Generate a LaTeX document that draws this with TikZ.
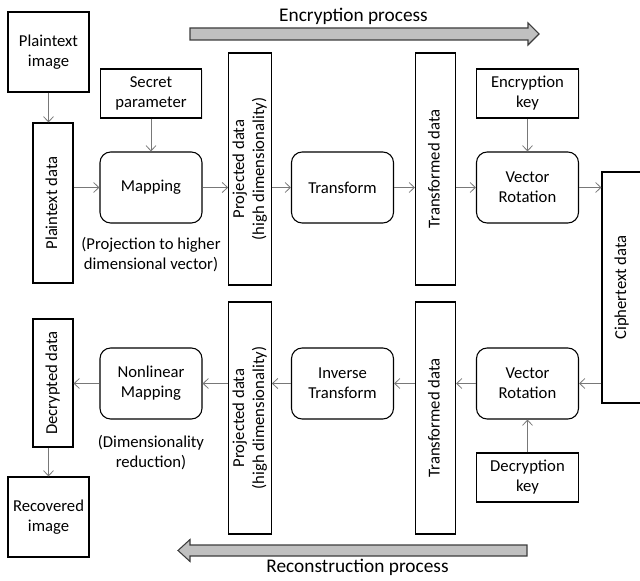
\documentclass[tikz,border=0pt]{standalone}
\usepackage{fontspec}
\setmainfont{Carlito}
\usepackage{tikz}
\usetikzlibrary{arrows.meta,positioning,shadows}
\definecolor{mylinegrey}{RGB}{120,120,120}
\definecolor{myarrowgrey}{RGB}{192,192,192}
\definecolor{myedgegrey}{RGB}{60,60,60}
\newcommand\vtext[1]{\rotatebox{90}{\begin{tabular}{@{}c@{}}#1\end{tabular}}}

\begin{document}
\begin{tikzpicture}[x=0.75pt,y=-0.75pt,
            font=\fontsize{12.5}{15}\selectfont,
            >={Straight Barb[length=4pt,width=7.5pt]},
            boxb/.style={
                draw=black,
                line width=0.8pt,
                fill=white,
                align=center,
                inner sep=1pt},
            squareb/.style={boxb,minimum width=60.75pt,minimum height=60pt},
            keyb/.style={boxb,minimum width=76pt,minimum height=36.75pt},
            procb/.style={boxb,rounded corners=8pt,minimum width=76.5pt,minimum height=53.25pt},
            datab/.style={boxb,minimum width=30pt},
            shadowb/.style={drop shadow={shadow xshift=1pt,shadow yshift=-1pt,fill=black!18}},
            flow/.style={->,draw=mylinegrey,line width=0.6pt},
            fatarrow/.style={fill=myarrowgrey,draw=myedgegrey,line width=0.8pt},
            title/.style={font=\fontsize{14.5}{17}\selectfont},
        ]
        \useasboundingbox (0,0) rectangle (640,581);

        % encryption row
        \node[squareb] (PlainImg) at (48.5,52) {Plaintext\\image};
        \node[datab,shadowb,minimum height=120pt] (PlainData) at (53,203) {\vtext{Plaintext data}};
        \node[keyb,shadowb] (Secret) at (151,93.5) {Secret\\parameter};
        \node[procb] (Map) at (151,187.5) {Mapping};
        \node[align=center] (MapNote) at (151,255) {(Projection to higher\\dimensional vector)};
        \node[datab,minimum height=174pt] (ProjA) at (250,169) {\vtext{Projected data\\(high dimensionality)}};
        \node[procb] (Trans) at (342.5,187.5) {Transform};
        \node[datab,minimum height=174pt] (TransA) at (435.5,169) {\vtext{Transformed data}};
        \node[keyb,shadowb] (EncKey) at (527.5,93.5) {Encryption\\key};
        \node[procb] (RotA) at (527.5,187.5) {Vector\\Rotation};
        \node[datab,shadowb,minimum height=173.25pt] (Cipher) at (622,287.5) {\vtext{Ciphertext data}};

        % reconstruction row
        \node[datab,shadowb,minimum height=96pt] (DecData) at (53,383) {\vtext{Decrypted data}};
        \node[squareb] (RecImg) at (48.5,517) {Recovered\\image};
        \node[procb] (NlMap) at (151,383.5) {Nonlinear\\Mapping};
        \node[align=center] (NlNote) at (151,452.5) {(Dimensionality\\reduction)};
        \node[datab,minimum height=174pt] (ProjB) at (250,418) {\vtext{Projected data\\(high dimensionality)}};
        \node[procb] (InvTrans) at (342.5,383.5) {Inverse\\Transform};
        \node[datab,minimum height=174pt] (TransB) at (435.5,418) {\vtext{Transformed data}};
        \node[procb] (RotB) at (527.5,383.5) {Vector\\Rotation};
        \node[keyb] (DecKey) at (527.5,477.5) {Decryption\\key};

        % fat arrows
        \draw[fatarrow] (190,28) -- (528,28) -- (528,23) -- (539,34) -- (528,45) -- (528,40) -- (190,40) -- cycle;
        \node[title] (EncTitle) at (353.5,16) {Encryption process};
        \draw[fatarrow] (527,545) -- (190,545) -- (190,539.5) -- (178,550.5) -- (190,561.5) -- (190,556) -- (527,556) -- cycle;
        \node[title] (RecTitle) at (357.5,567) {Reconstruction process};

        % connectors
        \draw[flow] (PlainImg.south) -- (PlainImg.south |- PlainData.north);
        \draw[flow] (PlainData.east |- Map.west) -- (Map.west);
        \draw[flow] (Secret) -- (Map);
        \draw[flow] (Map.east) -- (Map.east -| ProjA.west);
        \draw[flow] (Trans.west -| ProjA.east) -- (Trans.west);
        \draw[flow] (Trans.east) -- (Trans.east -| TransA.west);
        \draw[flow] (RotA.west -| TransA.east) -- (RotA.west);
        \draw[flow] (EncKey) -- (RotA);
        \draw[flow] (RotA.east) -- (RotA.east -| Cipher.west);

        \draw[flow] (RotB.east -| Cipher.west) -- (RotB.east);
        \draw[flow] (RotB.west) -- (RotB.west -| TransB.east);
        \draw[flow] (InvTrans.east -| TransB.west) -- (InvTrans.east);
        \draw[flow] (InvTrans.west) -- (InvTrans.west -| ProjB.east);
        \draw[flow] (NlMap.east -| ProjB.west) -- (NlMap.east);
        \draw[flow] (NlMap.west) -- (NlMap.west -| DecData.east);
        \draw[flow] (DecKey) -- (RotB);
        \draw[flow] (RecImg.north |- DecData.south) -- (RecImg.north);
\end{tikzpicture}
\end{document}
